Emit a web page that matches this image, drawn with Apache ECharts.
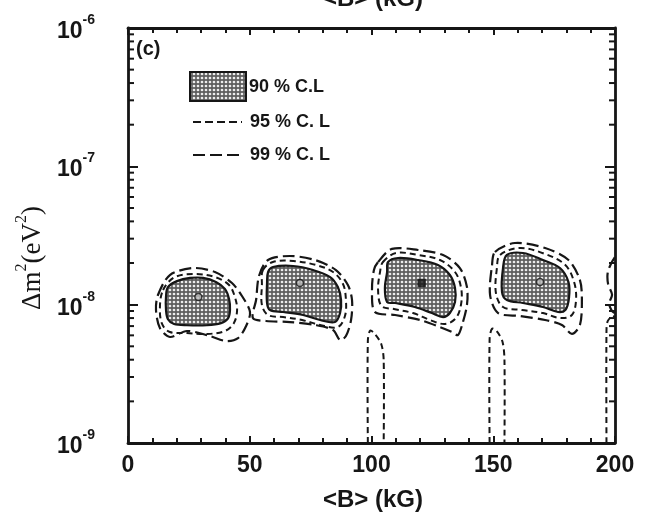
<!DOCTYPE html>
<html><head><meta charset="utf-8">
<script src="https://cdn.jsdelivr.net/npm/echarts@6/dist/echarts.min.js"></script>
<style>html,body{margin:0;padding:0;background:#fff}#c{width:648px;height:524px}</style>
</head><body><div id="c"></div>
<script>
// ---- axis settings ----
const xMin = 0, xMax = 200, xStep = 50;
const yMin = 1e-9, yMax = 1e-6;
const yDecades = [-9, -8, -7];
const yMinorMultipliers = [2, 3, 4, 5, 6, 7, 8, 9];
const xTitle = '<B> (kG)';
const legendLabels = ['90 % C.L', '95 % C. L', '99 % C. L'];
const panelLabel = '(c)';

// ---- contour data: [B (kG), dm^2 (eV^2)] ----
const blob1_90 = [[16.4,1.34e-8],[20.1,1.48e-8],[25.5,1.56e-8],[30.8,1.56e-8],[36.1,1.46e-8],[39.8,1.30e-8],[41.5,1.10e-8],[41.9,9.20e-9],[41.1,7.95e-9],[38.2,7.35e-9],[32.4,7.10e-9],[24.2,7.10e-9],[18.9,7.25e-9],[16.4,7.85e-9],[15.6,9.20e-9],[15.6,1.14e-8]];
const blob1_95 = [[14.4,1.276e-8],[19.3,1.584e-8],[27.9,1.665e-8],[35.7,1.584e-8],[41.5,1.387e-8],[43.9,1.136e-8],[44.8,9.15e-9],[43.5,7.37e-9],[39.8,6.45e-9],[32.4,6.14e-9],[24.2,6.24e-9],[17.2,6.34e-9],[14.0,7.25e-9],[13.1,9.46e-9]];
const blob1_99 = [[12.3,1.174e-8],[17.2,1.638e-8],[26.7,1.840e-8],[35.7,1.722e-8],[42.7,1.434e-8],[46.8,1.155e-8],[50.1,8.85e-9],[48.5,7.01e-9],[45.2,5.74e-9],[40.2,5.46e-9],[33.7,5.93e-9],[24.2,6.45e-9],[17.2,5.84e-9],[13.1,6.78e-9],[11.5,9.15e-9]];

const blob2_90 = [[57.5,1.722e-8],[59.5,1.871e-8],[67.8,1.903e-8],[76.0,1.780e-8],[83.0,1.584e-8],[86.2,1.341e-8],[87.5,1.081e-8],[87.1,8.70e-9],[85.0,7.49e-9],[78.9,7.75e-9],[71.9,8.42e-9],[63.7,8.85e-9],[58.3,9.15e-9],[57.1,1.028e-8],[57.1,1.434e-8]];
const blob2_95 = [[55.4,1.780e-8],[59.5,2.034e-8],[67.8,2.068e-8],[77.2,1.935e-8],[84.2,1.722e-8],[88.3,1.410e-8],[89.5,1.081e-8],[89.1,8.28e-9],[86.2,6.89e-9],[78.9,7.13e-9],[71.5,7.75e-9],[63.7,8.14e-9],[57.5,8.42e-9],[55.0,9.94e-9],[55.0,1.387e-8]];
const blob2_99 = [[53.8,1.611e-8],[57.5,2.103e-8],[66.5,2.248e-8],[76.8,2.103e-8],[85.4,1.780e-8],[90.3,1.387e-8],[92.0,1.081e-8],[91.6,7.75e-9],[89.5,5.93e-9],[87.1,5.55e-9],[84.2,6.56e-9],[76.8,7.13e-9],[66.5,7.49e-9],[56.7,7.62e-9],[51.3,8.01e-9],[52.6,1.081e-8]];

const blob3_90 = [[106.8,2.034e-8],[110.9,2.174e-8],[119.1,2.103e-8],[127.3,1.935e-8],[132.2,1.638e-8],[134.3,1.319e-8],[134.3,1.045e-8],[132.2,8.70e-9],[129.4,8.14e-9],[124.8,8.70e-9],[117.8,9.62e-9],[109.7,1.028e-8],[106.4,1.045e-8],[105.5,1.319e-8],[106.4,1.722e-8]];
const blob3_95 = [[104.7,2.034e-8],[110.1,2.363e-8],[119.1,2.286e-8],[128.1,2.103e-8],[134.3,1.722e-8],[136.8,1.319e-8],[136.8,1.011e-8],[134.7,8.01e-9],[130.2,7.25e-9],[124.0,7.75e-9],[117.0,8.70e-9],[109.2,9.30e-9],[104.1,9.78e-9],[102.7,1.276e-8],[103.5,1.722e-8]];
const blob3_99 = [[102.7,2.034e-8],[108.4,2.53e-8],[119.1,2.485e-8],[129.4,2.286e-8],[136.3,1.840e-8],[139.2,1.341e-8],[139.2,9.94e-9],[137.2,7.13e-9],[135.5,6.03e-9],[133.1,6.34e-9],[128.1,6.89e-9],[119.9,7.75e-9],[109.7,8.42e-9],[101.4,8.85e-9],[100.2,1.276e-8],[101.0,1.780e-8]];

const blob4_90 = [[155.6,2.286e-8],[162.2,2.363e-8],[170.4,2.103e-8],[177.4,1.840e-8],[180.9,1.458e-8],[181.1,1.117e-8],[179.6,9.15e-9],[176.6,8.85e-9],[170.4,9.62e-9],[162.2,1.028e-8],[155.6,1.081e-8],[153.6,1.234e-8],[154.0,1.840e-8]];
const blob4_95 = [[152.8,2.286e-8],[161.0,2.569e-8],[171.3,2.324e-8],[179.6,1.935e-8],[183.2,1.458e-8],[184.0,1.081e-8],[182.3,8.42e-9],[177.4,8.01e-9],[170.4,8.70e-9],[161.8,9.15e-9],[154.0,9.62e-9],[151.1,1.214e-8],[151.5,1.840e-8]];
const blob4_99 = [[150.7,2.404e-8],[158.9,2.79e-8],[171.3,2.569e-8],[180.9,2.103e-8],[185.6,1.507e-8],[186.4,1.081e-8],[185.6,7.13e-9],[182.3,6.14e-9],[178.2,7.13e-9],[171.3,7.75e-9],[161.0,8.28e-9],[152.0,8.70e-9],[148.7,1.174e-8],[149.5,1.935e-8]];

// open contours reaching the axes
const finger1 = [[98.5,1e-9],[98.5,5.5e-9],[99.5,6.5e-9],[101.5,6.1e-9],[104.0,5.2e-9],[105.0,4.0e-9],[105.0,1e-9]];
const finger2 = [[148.5,1e-9],[148.5,5.6e-9],[149.5,6.7e-9],[151.5,6.4e-9],[153.8,5.4e-9],[154.6,4.0e-9],[154.6,1e-9]];
const edge95 = [[196.5,1e-9],[196.5,6.5e-9],[197.0,7.6e-9],[199.0,8.3e-9],[199.9,8.1e-9]];
const edge99 = [[199.9,2.2e-8],[198.5,2.0e-8],[197.0,1.7e-8],[197.2,1.4e-8],[198.8,1.18e-8],[197.6,1.02e-8],[198.6,9.1e-9],[199.9,8.7e-9]];

// best-fit points
const centers = [[28.9,1.136e-8],[70.6,1.434e-8],[120.6,1.434e-8],[169.2,1.458e-8]];
const centerFilled = [false, false, true, false];

// ---- build ----
function makePattern(){
  const c = document.createElement('canvas'); c.width = 4; c.height = 4;
  const g = c.getContext('2d');
  g.fillStyle = '#5e5e5e'; g.fillRect(0,0,4,4);
  g.fillStyle = '#ececec'; g.beginPath(); g.arc(2,2,1.35,0,Math.PI*2); g.fill();
  return c;
}
const pattern = {image: makePattern(), repeat: 'repeat'};
const INK = '#161616';
const st90 = {fill: pattern, stroke: INK, lineWidth: 2.2};
const st95 = {fill: 'none', stroke: INK, lineWidth: 2, lineDash: [6,4]};
const st99 = {fill: 'none', stroke: INK, lineWidth: 2.2, lineDash: [12,5]};

function shapeSeries(points, style, closed, smooth){
  return {
    type: 'custom', coordinateSystem: 'cartesian2d', silent: true, clip: true,
    data: [points[0]],
    renderItem: (params, api) => ({
      type: closed ? 'polygon' : 'polyline',
      shape: {points: points.map(p => api.coord(p)), smooth: smooth},
      style: Object.assign({}, style)
    })
  };
}

const minorTickValues = [];
yDecades.forEach(d => yMinorMultipliers.forEach(m => minorTickValues.push([0, m * Math.pow(10, d)])));

const series = [
  shapeSeries(blob1_90, st90, true, 0.35), shapeSeries(blob2_90, st90, true, 0.35),
  shapeSeries(blob3_90, st90, true, 0.35), shapeSeries(blob4_90, st90, true, 0.35),
  shapeSeries(blob1_95, st95, true, 0.35), shapeSeries(blob2_95, st95, true, 0.35),
  shapeSeries(blob3_95, st95, true, 0.35), shapeSeries(blob4_95, st95, true, 0.35),
  shapeSeries(blob1_99, st99, true, 0.3), shapeSeries(blob2_99, st99, true, 0.3),
  shapeSeries(blob3_99, st99, true, 0.3), shapeSeries(blob4_99, st99, true, 0.3),
  shapeSeries(finger1, st95, false, 0.3), shapeSeries(finger2, st95, false, 0.3),
  shapeSeries(edge95, st95, false, 0.3), shapeSeries(edge99, st99, false, 0.3),
  {
    type: 'scatter', silent: true, symbolSize: 7, z: 5,
    data: centers.map((c, i) => ({value: c, symbol: centerFilled[i] ? 'rect' : 'circle',
      itemStyle: {color: centerFilled[i] ? INK : '#bbb', borderColor: INK, borderWidth: 1.5}}))
  },
  {
    type: 'custom', coordinateSystem: 'cartesian2d', silent: true, clip: false, z: 6,
    data: minorTickValues,
    renderItem: (params, api) => {
      const v = api.value(1);
      const l = api.coord([xMin, v]), r = api.coord([xMax, v]);
      return {type: 'group', children: [
        {type: 'line', shape: {x1: l[0], y1: l[1], x2: l[0] + 6, y2: l[1]}, style: {stroke: INK, lineWidth: 2}},
        {type: 'line', shape: {x1: r[0], y1: r[1], x2: r[0] - 6, y2: r[1]}, style: {stroke: INK, lineWidth: 2}}
      ]};
    }
  }
];

const axisLineStyle = {color: INK, width: 2.8};
const tickStyle = {color: INK, width: 2};
const FONT = 'Liberation Sans';
const TF = 'bold 24px "Liberation Sans"';
const LF = 'bold 18px "Liberation Sans"';

const chart = echarts.init(document.getElementById('c'), null, {renderer: 'canvas'});
chart.setOption({
  animation: false,
  backgroundColor: '#fff',
  grid: {left: 128, right: 33, top: 28, bottom: 81},
  xAxis: [
    {type: 'value', min: xMin, max: xMax, interval: xStep, position: 'bottom',
     axisLine: {onZero: false, lineStyle: axisLineStyle},
     axisTick: {inside: true, length: 7, lineStyle: tickStyle},
     minorTick: {show: true, splitNumber: 5, length: 5, lineStyle: tickStyle},
     splitLine: {show: false},
     axisLabel: {fontSize: 23, fontWeight: 'bold', color: INK, margin: 11, fontFamily: FONT}},
    {type: 'value', min: xMin, max: xMax, interval: xStep, position: 'top',
     axisLine: {onZero: false, lineStyle: axisLineStyle},
     axisTick: {inside: true, length: 7, lineStyle: tickStyle},
     minorTick: {show: true, splitNumber: 5, length: 5, lineStyle: tickStyle},
     splitLine: {show: false}, axisLabel: {show: false}}
  ],
  yAxis: [
    {type: 'log', logBase: 10, min: yMin, max: yMax, position: 'left',
     axisLine: {onZero: false, lineStyle: axisLineStyle},
     axisTick: {inside: true, length: 10, lineStyle: tickStyle},
     splitLine: {show: false},
     axisLabel: {margin: 33, color: INK, fontFamily: FONT,
       formatter: v => '{a|10}{s|' + Math.round(Math.log10(v)) + '}',
       rich: {a: {fontSize: 23, fontWeight: 'bold', padding: [7,0,0,0], verticalAlign: 'bottom', fontFamily: FONT, color: INK},
              s: {fontSize: 14, fontWeight: 'bold', verticalAlign: 'top', fontFamily: FONT, color: INK}}}},
    {type: 'log', logBase: 10, min: yMin, max: yMax, position: 'right',
     axisLine: {onZero: false, lineStyle: axisLineStyle},
     axisTick: {inside: true, length: 10, lineStyle: tickStyle},
     splitLine: {show: false}, axisLabel: {show: false}}
  ],
  graphic: [
    {type: 'text', x: 373, y: 500, style: {text: xTitle, font: TF, fill: INK, align: 'center', verticalAlign: 'middle'}},
    {type: 'text', x: 373, y: -1, style: {text: xTitle, font: TF, fill: INK, align: 'center', verticalAlign: 'middle'}},
    {type: 'text', x: 30, y: 258, rotation: Math.PI / 2,
     style: {text: '{n|Δm}{s|2}{n|(eV}{s|2}{n|)}', align: 'center', verticalAlign: 'middle',
       rich: {n: {fontSize: 27, fontFamily: 'Liberation Serif', fill: INK, padding: [6,0,0,0], verticalAlign: 'bottom'},
              s: {fontSize: 16, fontFamily: 'Liberation Serif', fill: INK, verticalAlign: 'top'}}}},
    {type: 'text', x: 136, y: 49, style: {text: panelLabel, font: 'bold 20px "Liberation Sans"', fill: INK, verticalAlign: 'middle'}},
    {type: 'rect', shape: {x: 190, y: 72, width: 56, height: 29}, style: {fill: pattern, stroke: INK, lineWidth: 2}},
    {type: 'text', x: 249, y: 87, style: {text: legendLabels[0], font: LF, fill: INK, verticalAlign: 'middle'}},
    {type: 'line', shape: {x1: 193, y1: 122, x2: 242, y2: 122}, style: {stroke: INK, lineWidth: 2, lineDash: [8,4]}},
    {type: 'text', x: 250, y: 122, style: {text: legendLabels[1], font: LF, fill: INK, verticalAlign: 'middle'}},
    {type: 'line', shape: {x1: 193, y1: 155, x2: 242, y2: 155}, style: {stroke: INK, lineWidth: 2.2, lineDash: [12,5]}},
    {type: 'text', x: 250, y: 155, style: {text: legendLabels[2], font: LF, fill: INK, verticalAlign: 'middle'}}
  ],
  series: series
});
</script></body></html>
